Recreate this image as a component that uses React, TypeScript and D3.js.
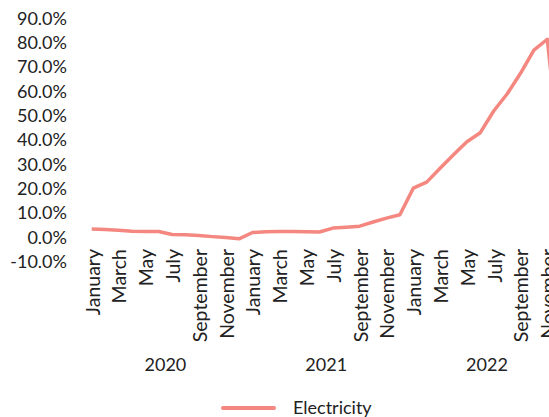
import React from "react";
import * as d3 from "d3";

const months = ["January","February","March","April","May","June","July","August","September","October","November","December"];
const years = ["2020", "2021", "2022"];
const yTicks = [-10, 0, 10, 20, 30, 40, 50, 60, 70, 80, 90];
const seriesName = "Electricity";
const electricity = [
  3.4, 3.2, 2.9, 2.5, 2.4, 2.4, 1.2, 1.1, 0.8, 0.3, -0.1, -0.6,
  2.0, 2.3, 2.4, 2.4, 2.3, 2.2, 3.8, 4.2, 4.6, 6.3, 7.9, 9.3,
  20.2, 22.7, 28.4, 33.9, 39.3, 43.0, 51.9, 58.9, 67.4, 76.9, 81.4, 30.0,
];

const W = 549, H = 417;
const FONT = "Lato, 'Open Sans', sans-serif";
const COLOR = "#f4877f";

export default function App() {
  const x = d3.scaleLinear().domain([0, 35]).range([91.7, 91.7 + 35 * 13.4]);
  const y = d3.scaleLinear().domain([-10, 90]).range([261.7, 18.3]);
  const line = d3.line<number>().x((_, i) => x(i)).y((d) => y(d));
  const labels: { i: number; text: string }[] = [];
  for (let i = 0; i < electricity.length; i += 2) labels.push({ i, text: months[i % 12] });

  return (
    <svg width={W} height={H} style={{ position: "absolute", left: 0, top: 0, background: "#fff" }} fontFamily={FONT}>
      <g fontSize={18} fill="#222" textAnchor="end">
        {yTicks.map((t) => (
          <text key={t} x={67} y={y(t)} dy="0.35em">{t.toFixed(1)}%</text>
        ))}
      </g>
      <path d={line(electricity) || ""} fill="none" stroke={COLOR} strokeWidth={3.5} strokeLinejoin="round" />
      <g fontSize={19.5} fill="#222">
        {labels.map((l) => (
          <text key={l.i} transform={`translate(${x(l.i) + 1},249) rotate(-90)`} textAnchor="end" dy="0.35em">{l.text}</text>
        ))}
      </g>
      <g fontSize={18} fill="#222" textAnchor="middle">
        {years.map((yr, k) => (
          <text key={yr} x={(x(k * 12) + x(k * 12 + 11)) / 2} y={365} dy="0.35em">{yr}</text>
        ))}
      </g>
      <line x1={223} x2={274} y1={408} y2={408} stroke={COLOR} strokeWidth={4} strokeLinecap="round" />
      <text x={293} y={408} dy="0.35em" fontSize={18} fill="#222">{seriesName}</text>
    </svg>
  );
}
